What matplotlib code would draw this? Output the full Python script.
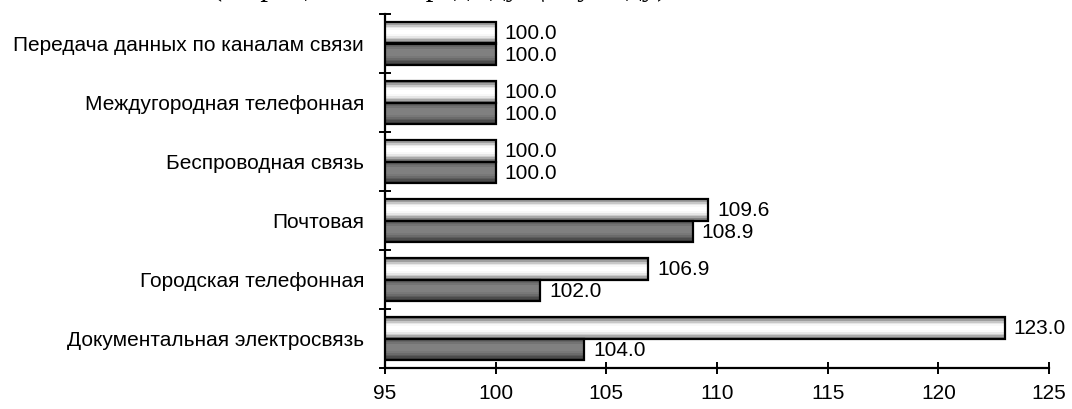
import numpy as np
import matplotlib
matplotlib.use("Agg")
import matplotlib.pyplot as plt

categories = ["Документальная электросвязь", "Городская телефонная", "Почтовая",
              "Беспроводная связь", "Междугородная телефонная",
              "Передача данных по каналам связи"]
series_light = [123.0, 106.9, 109.6, 100.0, 100.0, 100.0]
series_dark = [104.0, 102.0, 108.9, 100.0, 100.0, 100.0]
x_ticks = [95, 100, 105, 110, 115, 120, 125]
title = "(в процентах к предыдущему году)"

plt.rcParams['font.family'] = ['Liberation Sans', 'DejaVu Sans']

W, H = 1072, 409
fig = plt.figure(figsize=(W / 100, H / 100), dpi=100)
ax = fig.add_axes([385 / W, 1 - 368 / H, (1049 - 385) / W, (368 - 14) / H])

bh = 0.36
pos = np.arange(len(categories))

light_grad = np.array([0.45, 0.62, 0.78, 0.9, 0.97, 1.0, 1.0, 0.97, 0.9, 0.8, 0.66, 0.5])
dark_grad = np.array([0.33, 0.4, 0.45, 0.5, 0.5, 0.5, 0.5, 0.47, 0.42, 0.36, 0.3, 0.25])

def draw_bars(yvals, vals, grad):
    bars = ax.barh(yvals, vals, height=bh, left=0, facecolor='none',
                   edgecolor='black', linewidth=1.6, zorder=3)
    for b in bars:
        x0, y0 = b.get_x(), b.get_y()
        x1, y1 = x0 + b.get_width(), y0 + b.get_height()
        img = grad[::-1].reshape(-1, 1)
        ax.imshow(img, cmap='gray', vmin=0, vmax=1, aspect='auto',
                  extent=(x0, x1, y0, y1), origin='lower',
                  interpolation='nearest', zorder=2)
    return bars

bl = draw_bars(pos + bh / 2, series_light, light_grad)
bd = draw_bars(pos - bh / 2, series_dark, dark_grad)

for bars, vals in ((bl, series_light), (bd, series_dark)):
    for b, v in zip(bars, vals):
        ax.annotate(f"{v:.1f}", (b.get_x() + b.get_width(), b.get_y() + b.get_height() / 2),
                    xytext=(9, -1), textcoords='offset pixels',
                    ha='left', va='center', fontsize=15, color='black', zorder=4)

ax.set_xlim(95, 125)
ax.set_ylim(-0.5, len(categories) - 0.5)
ax.set_xticks(x_ticks)
ax.set_xticklabels([str(t) for t in x_ticks], fontsize=15)
ax.set_yticks(pos)
ax.set_yticklabels(categories, fontsize=15)
ax.set_yticks(np.arange(len(categories) + 1) - 0.5, minor=True)
ax.tick_params(axis='y', which='major', length=0, pad=15)
ax.tick_params(axis='y', which='minor', length=9, width=1.4, direction='inout')
ax.tick_params(axis='x', which='major', length=9, width=1.4, direction='inout', pad=7)

for s in ('top', 'right'):
    ax.spines[s].set_visible(False)
for s in ('left', 'bottom'):
    ax.spines[s].set_linewidth(1.6)

fig.text(440 / W, 1 + 5 / H, title, ha='center', va='baseline',
         fontsize=22, family=['Liberation Serif', 'DejaVu Serif'])

fig.savefig("out.png", dpi=100)
